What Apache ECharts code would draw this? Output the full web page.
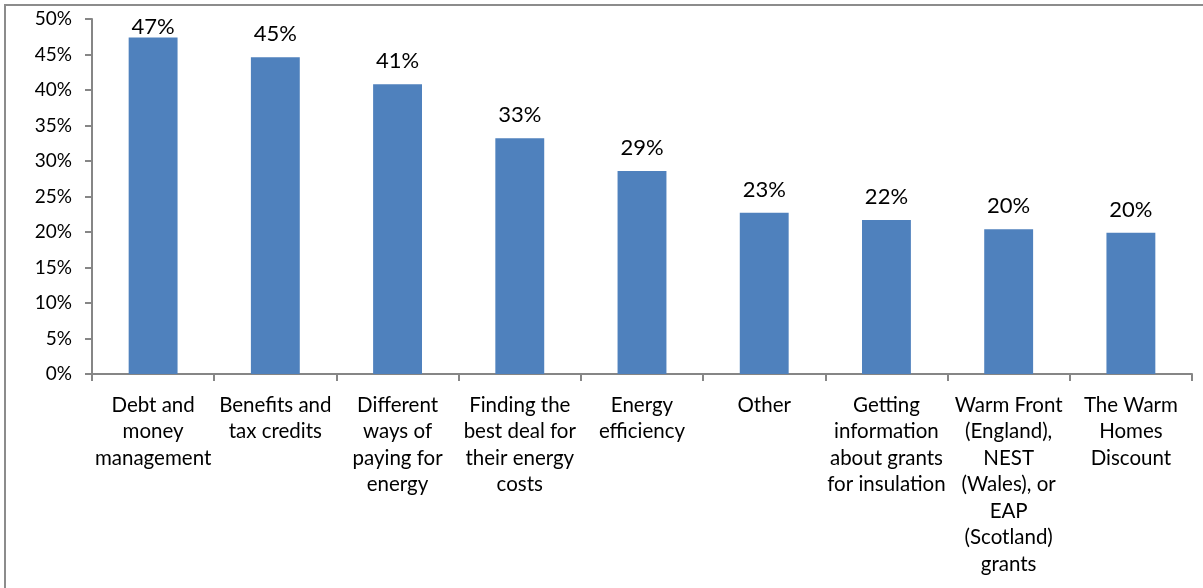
<!DOCTYPE html>
<html>
<head>
<meta charset="utf-8">
<script src="https://cdn.jsdelivr.net/npm/echarts@6/dist/echarts.min.js"></script>
<style>
  html, body { margin: 0; padding: 0; background: #fff; }
  #chart { width: 1203px; height: 588px; }
</style>
</head>
<body>
<div id="chart"></div>
<script>
// Topics on which advice was received (share of respondents)
const categories = [
  'Debt and\nmoney\nmanagement',
  'Benefits and\ntax credits',
  'Different\nways of\npaying for\nenergy',
  'Finding the\nbest deal for\ntheir energy\ncosts',
  'Energy\nefficiency',
  'Other',
  'Getting\ninformation\nabout grants\nfor insulation',
  'Warm Front\n(England),\nNEST\n(Wales), or\nEAP\n(Scotland)\ngrants',
  'The Warm\nHomes\nDiscount'
];
const shares = [47.4, 44.6, 40.8, 33.2, 28.6, 22.7, 21.7, 20.4, 19.9];
const yTicks = [0, 5, 10, 15, 20, 25, 30, 35, 40, 45, 50];

const FONT = 'Lato, "Liberation Sans", sans-serif';
const AXIS_GREY = '#868686';
const Y_MAX = yTicks[yTicks.length - 1];

// Labels normally float well above the bar; a bar that nearly reaches the
// top of the plot keeps its label tucked just above it so it stays inside.
const barData = shares.map(v => ({
  value: v,
  label: { distance: v > Y_MAX - 4 ? 0 : 12 }
}));

const chart = echarts.init(document.getElementById('chart'), null, { renderer: 'canvas' });

chart.setOption({
  animation: false,
  backgroundColor: '#ffffff',
  graphic: [{
    type: 'rect',
    shape: { x: 5, y: 5, width: 1400, height: 800 },
    style: { fill: 'none', stroke: '#8c8c8c', lineWidth: 2 },
    silent: true
  }],
  grid: { left: 92, right: 11, top: 19, bottom: 214, containLabel: false },
  xAxis: {
    type: 'category',
    data: categories,
    boundaryGap: true,
    axisLine: { lineStyle: { color: AXIS_GREY, width: 2 } },
    axisTick: { show: true, alignWithLabel: false, length: 7, lineStyle: { color: AXIS_GREY, width: 2 } },
    axisLabel: {
      interval: 0,
      margin: 18,
      color: '#000',
      fontFamily: FONT,
      fontSize: 20.5,
      lineHeight: 26.5,
      align: 'center'
    },
    splitLine: { show: false }
  },
  yAxis: {
    type: 'value',
    min: yTicks[0],
    max: Y_MAX,
    interval: yTicks[1] - yTicks[0],
    axisLine: { show: true, lineStyle: { color: AXIS_GREY, width: 2 } },
    axisTick: { show: true, length: 7, lineStyle: { color: AXIS_GREY, width: 2 } },
    axisLabel: {
      margin: 20,
      color: '#000',
      fontFamily: FONT,
      fontSize: 19,
      formatter: v => v + '%'
    },
    splitLine: { show: false }
  },
  series: [{
    type: 'bar',
    data: barData,
    barCategoryGap: '60%',
    itemStyle: { color: '#4F81BD' },
    label: {
      show: true,
      position: 'top',
      color: '#000',
      fontFamily: FONT,
      fontSize: 22,
      formatter: p => Math.round(p.value) + '%'
    }
  }]
});
</script>
</body>
</html>
